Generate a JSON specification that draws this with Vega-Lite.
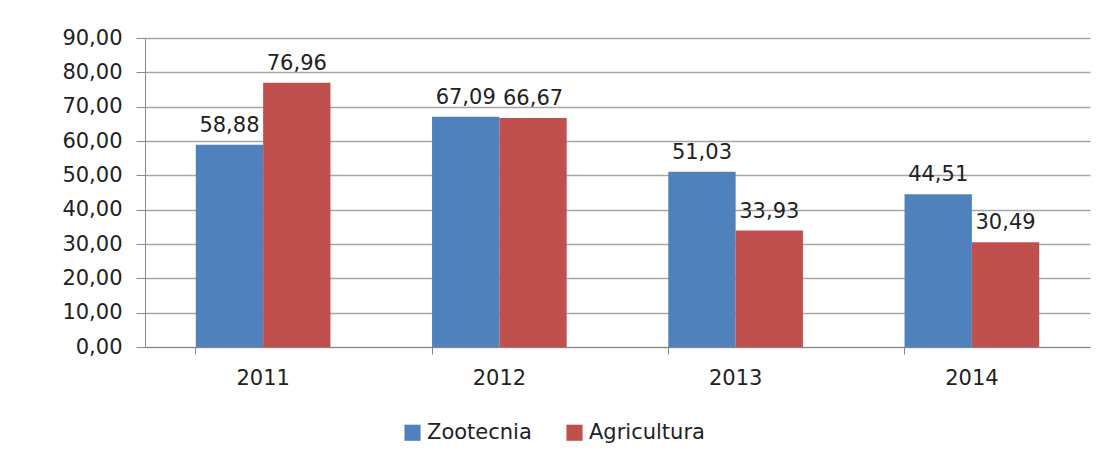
{
  "$schema": "https://vega.github.io/schema/vega-lite/v6.json",
  "autosize": {"type": "none"},
  "width": 945,
  "height": 309,
  "padding": {"left": 145, "top": 38, "right": 24, "bottom": 110},
  "background": "white",
  "config": {
    "locale": {"number": {"decimal": ",", "thousands": ".", "grouping": [3], "currency": ["", " €"]}},
    "font": "DejaVu Sans",
    "view": {"stroke": null}
  },
  "data": {
    "values": [
      {"ano": "2011", "serie": "Zootecnia", "valor": 58.88},
      {"ano": "2011", "serie": "Agricultura", "valor": 76.96},
      {"ano": "2012", "serie": "Zootecnia", "valor": 67.09},
      {"ano": "2012", "serie": "Agricultura", "valor": 66.67},
      {"ano": "2013", "serie": "Zootecnia", "valor": 51.03},
      {"ano": "2013", "serie": "Agricultura", "valor": 33.93},
      {"ano": "2014", "serie": "Zootecnia", "valor": 44.51},
      {"ano": "2014", "serie": "Agricultura", "valor": 30.49}
    ]
  },
  "encoding": {
    "x": {
      "field": "ano", "type": "nominal", "title": null,
      "scale": {"paddingInner": 0.43, "paddingOuter": 0.215},
      "axis": {
        "labelAngle": 0, "labelFontSize": 21, "labelColor": "#222", "labelPadding": 13,
        "domainColor": "#888", "tickColor": "#888", "tickSize": 7, "bandPosition": 0,
        "grid": false
      }
    },
    "xOffset": {"field": "serie", "type": "nominal", "sort": ["Zootecnia", "Agricultura"]},
    "y": {
      "field": "valor", "type": "quantitative", "title": null,
      "scale": {"domain": [0, 90], "nice": false},
      "axis": {
        "values": [0, 10, 20, 30, 40, 50, 60, 70, 80, 90],
        "format": ".2f", "labelFontSize": 21, "labelColor": "#222", "labelPadding": 14,
        "domainColor": "#888", "tickColor": "#888", "tickSize": 9,
        "gridColor": "#a6a6a6", "gridWidth": 1.3
      }
    }
  },
  "layer": [
    {
      "mark": {"type": "bar"},
      "encoding": {
        "color": {
          "field": "serie", "type": "nominal", "sort": ["Zootecnia", "Agricultura"],
          "scale": {"domain": ["Zootecnia", "Agricultura"], "range": ["#4F81BD", "#C0504D"]},
          "legend": {
            "title": null, "orient": "none", "direction": "horizontal",
            "legendX": 257, "legendY": 384,
            "symbolType": "square", "symbolSize": 260, "symbolStrokeWidth": 0,
            "labelFontSize": 21, "labelColor": "#222", "columnPadding": 32
          }
        }
      }
    },
    {
      "mark": {"type": "text", "baseline": "middle", "dy": -19, "fontSize": 21, "color": "#222"},
      "encoding": {
        "text": {"field": "valor", "type": "quantitative", "format": ".2f"}
      }
    }
  ]
}
